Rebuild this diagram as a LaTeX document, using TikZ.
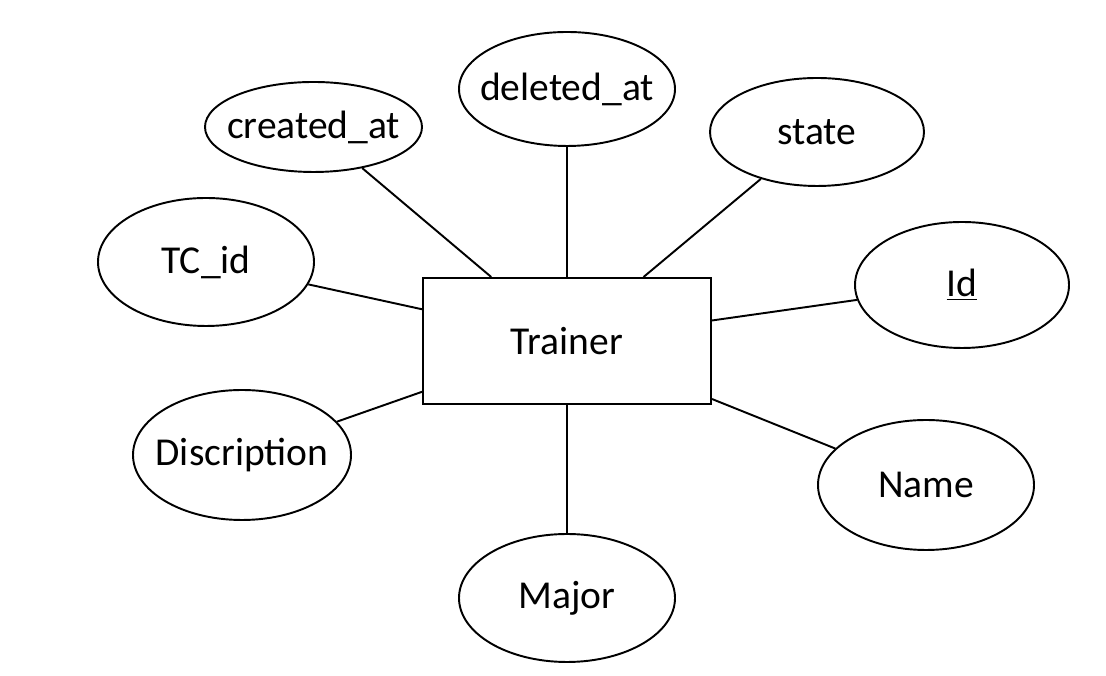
\documentclass[tikz,border=0pt]{standalone}
\usepackage{fontspec}
\setmainfont{Carlito}
\usetikzlibrary{shapes.geometric}

\begin{document}
\begin{tikzpicture}[
  entity/.style={draw, line width=1.1pt, minimum width=5.76cm, minimum height=2.52cm, font=\fontsize{22.5}{27}\selectfont},
  attr/.style={draw, ellipse, line width=1.1pt, inner sep=0pt, font=\fontsize{22.5}{27}\selectfont},
  link/.style={line width=1.1pt}
]
\useasboundingbox (0,0) rectangle (22.12,13.52);
\newcommand{\attrtext}[1]{\makebox[0pt]{#1}}

\node[entity] (trainer) at (11.34,6.70) {Trainer};
\node[attr, minimum width=4.34cm, minimum height=1.80cm] (created) at (6.27,10.98) {\attrtext{created\_at}};
\node[attr, minimum width=4.32cm, minimum height=2.28cm] (deleted) at (11.34,11.74) {\attrtext{deleted\_at}};
\node[attr, minimum width=4.28cm, minimum height=2.16cm] (state) at (16.34,10.88) {\attrtext{state}};
\node[attr, minimum width=4.32cm, minimum height=2.56cm] (tcid) at (4.12,8.28) {\attrtext{TC\_id}};
\node[attr, minimum width=4.28cm, minimum height=2.52cm] (id) at (19.24,7.82) {\attrtext{\underline{Id}}};
\node[attr, minimum width=4.36cm, minimum height=2.60cm] (descr) at (4.84,4.42) {\attrtext{Discription}};
\node[attr, minimum width=4.32cm, minimum height=2.60cm] (name) at (18.52,3.82) {\attrtext{Name}};
\node[attr, minimum width=4.32cm, minimum height=2.56cm] (major) at (11.34,1.56) {\attrtext{Major}};

\draw[link] (created) -- (trainer);
\draw[link] (deleted) -- (trainer);
\draw[link] (state) -- (trainer);
\draw[link] (tcid) -- (trainer);
\draw[link] (id) -- (trainer);
\draw[link] (descr) -- (trainer);
\draw[link] (name) -- (trainer);
\draw[link] (major) -- (trainer);
\end{tikzpicture}
\end{document}
